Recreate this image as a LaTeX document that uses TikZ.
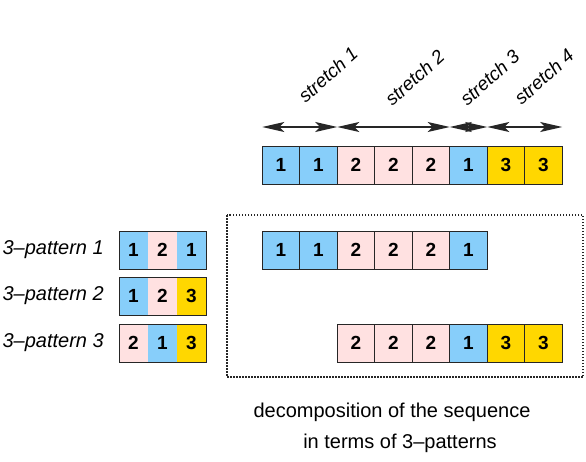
\documentclass[tikz,border=0pt]{standalone}
\usepackage{fontspec}
\setmainfont{Liberation Sans}
\usetikzlibrary{arrows.meta,positioning,calc}

\definecolor{seqblue}{HTML}{87CEFA}
\definecolor{seqpink}{HTML}{FFE1E1}
\definecolor{seqgold}{HTML}{FFD700}

\begin{document}
\begin{tikzpicture}[
    x=1pt, y=-1pt,
    node distance=0pt,
    >={Stealth[length=22pt,width=10pt,inset=5pt]},
    basecell/.style={
        draw=black!85,
        line width=1pt,
        minimum width=37.5pt,
        minimum height=38pt,
        inner sep=0pt,
        outer sep=0pt,
        font=\fontsize{19}{19}\selectfont\bfseries
    },
    % One colour per symbol of the sequence
    cellone/.style={basecell, fill=seqblue},
    celltwo/.style={basecell, fill=seqpink},
    cellthree/.style={basecell, fill=seqgold},
    % Pattern cells: filled only, border drawn round the whole pattern
    patcell/.style={basecell, draw=none, minimum width=29pt},
    patone/.style={patcell, fill=seqblue},
    pattwo/.style={patcell, fill=seqpink},
    patthree/.style={patcell, fill=seqgold},
    patframe/.style={draw=black!85, line width=1pt},
    patlabel/.style={anchor=east, inner sep=0pt, font=\fontsize{20}{20}\selectfont\itshape},
    stretchlabel/.style={anchor=south west, rotate=42, inner sep=0pt, font=\fontsize{18.8}{18.8}\selectfont\itshape},
    arrow/.style={<->, line width=1.3pt, draw=black!85},
    note/.style={font=\fontsize{20}{20}\selectfont}
]
\useasboundingbox (0,0) rectangle (586,461);

% Sequence
\node[cellone] (s1) at (281,165) {1};
\node[cellone, right=of s1] (s2) {1};
\node[celltwo, right=of s2] (s3) {2};
\node[celltwo, right=of s3] (s4) {2};
\node[celltwo, right=of s4] (s5) {2};
\node[cellone, right=of s5] (s6) {1};
\node[cellthree, right=of s6] (s7) {3};
\node[cellthree, right=of s7] (s8) {3};

% Stretches
\draw[arrow] ([yshift=19pt]s1.north west) -- ([yshift=19pt]s2.north east)
    node[midway, xshift=6pt, yshift=22pt, stretchlabel] (l1) {stretch 1};
\draw[arrow] ([yshift=19pt]s3.north west) -- ([yshift=19pt]s5.north east)
    node[midway, xshift=-1pt, yshift=19pt, stretchlabel] (l2) {stretch 2};
\draw[arrow] ([yshift=19pt]s6.north west) -- ([yshift=19pt]s6.north east)
    node[midway, xshift=-1pt, yshift=19pt, stretchlabel] (l3) {stretch 3};
\draw[arrow] ([yshift=19pt]s7.north west) -- ([yshift=19pt]s8.north east)
    node[midway, xshift=-3pt, yshift=20pt, stretchlabel] (l4) {stretch 4};

% 3-patterns
\node[patone] (p1a) at (133.5,250) {1};
\node[pattwo, right=of p1a] (p1b) {2};
\node[patone, right=of p1b] (p1c) {1};
\draw[patframe] (p1a.north west) rectangle (p1c.south east);
\node[patlabel] (t1) at (104,250) {3–pattern 1};

\node[patone] (p2a) at (133.5,296) {1};
\node[pattwo, right=of p2a] (p2b) {2};
\node[patthree, right=of p2b] (p2c) {3};
\draw[patframe] (p2a.north west) rectangle (p2c.south east);
\node[patlabel] (t2) at (104,296) {3–pattern 2};

\node[pattwo] (p3a) at (133.5,343) {2};
\node[patone, right=of p3a] (p3b) {1};
\node[patthree, right=of p3b] (p3c) {3};
\draw[patframe] (p3a.north west) rectangle (p3c.south east);
\node[patlabel] (t3) at (104,343) {3–pattern 3};

% Decomposition
\draw[black!85, line width=1.2pt, dash pattern=on 1.5pt off 1.5pt] (227,215) rectangle (583,377);

\node[cellone] (d1) at (281,250) {1};
\node[cellone, right=of d1] (d2) {1};
\node[celltwo, right=of d2] (d3) {2};
\node[celltwo, right=of d3] (d4) {2};
\node[celltwo, right=of d4] (d5) {2};
\node[cellone, right=of d5] (d6) {1};

\node[celltwo] (e1) at (356,343) {2};
\node[celltwo, right=of e1] (e2) {2};
\node[celltwo, right=of e2] (e3) {2};
\node[cellone, right=of e3] (e4) {1};
\node[cellthree, right=of e4] (e5) {3};
\node[cellthree, right=of e5] (e6) {3};

\node[note] (n1) at (392,412) {decomposition of the sequence};
\node[note] (n2) at (400,443) {in terms of 3–patterns};

\end{tikzpicture}
\end{document}
